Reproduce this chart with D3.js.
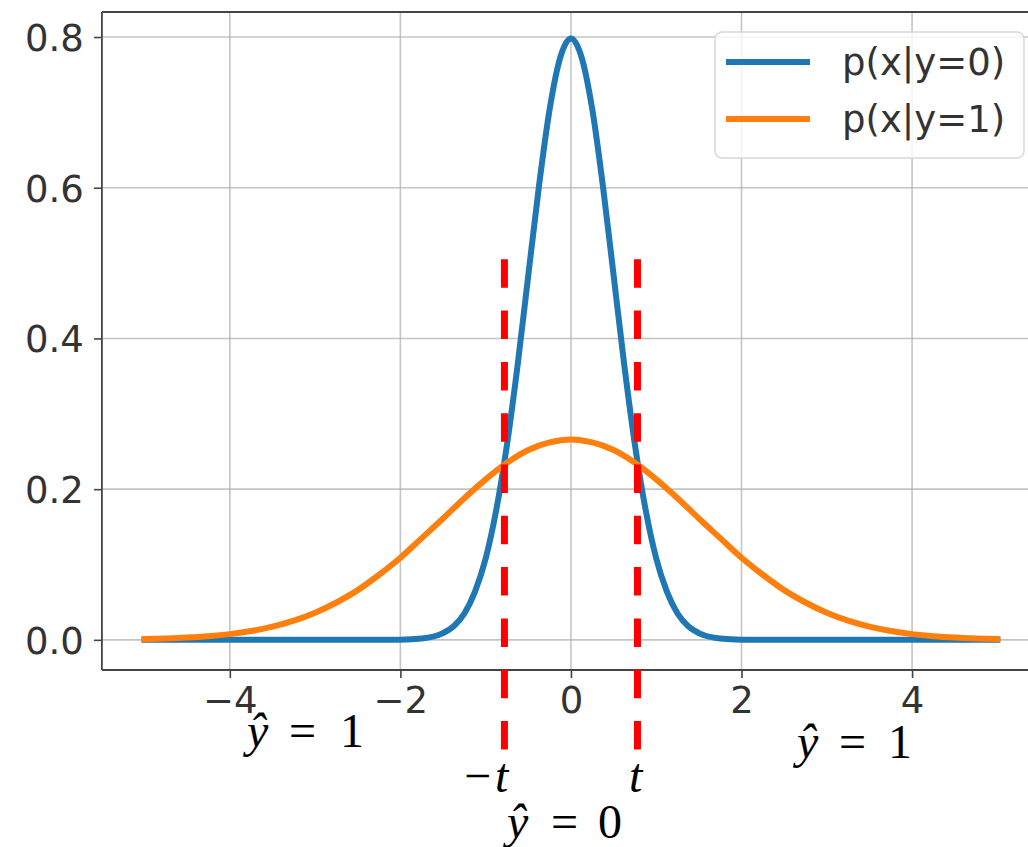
<!DOCTYPE html>
<html>
<head>
<meta charset="utf-8">
<script src="https://cdn.jsdelivr.net/npm/d3@7"></script>
<style>
  body { margin: 0; background: #fff; }
  svg { display: block; }
</style>
</head>
<body>
<div id="chart"></div>
<script>
// values
const xBlue = [-5, -4, -3, -2.5, -2, -1.75, -1.5, -1.375, -1.25, -1.125, -1, -0.875, -0.75, -0.625, -0.5, -0.375, -0.25, -0.125, 0,
  0.125, 0.25, 0.375, 0.5, 0.625, 0.75, 0.875, 1, 1.125, 1.25, 1.375, 1.5, 1.75, 2, 2.5, 3, 4, 5]
const pBlue = [0, 0, 0, 0, 0.0003, 0.0017, 0.0089, 0.018, 0.035, 0.064, 0.108, 0.173, 0.259, 0.365, 0.484, 0.602, 0.704, 0.773, 0.798,
  0.773, 0.704, 0.602, 0.484, 0.365, 0.259, 0.173, 0.108, 0.064, 0.035, 0.018, 0.0089, 0.0017, 0.0003, 0, 0, 0, 0]

const xOrange = [-5, -4.75, -4.5, -4.25, -4, -3.75, -3.5, -3.25, -3, -2.75, -2.5, -2.25, -2, -1.75, -1.5, -1.25, -1, -0.75, -0.5, -0.25, 0,
  0.25, 0.5, 0.75, 1, 1.25, 1.5, 1.75, 2, 2.25, 2.5, 2.75, 3, 3.25, 3.5, 3.75, 4, 4.25, 4.5, 4.75, 5]
const pOrange = [0.001, 0.0018, 0.003, 0.0048, 0.0076, 0.0117, 0.0175, 0.0254, 0.036, 0.0496, 0.066, 0.0864, 0.109, 0.135, 0.161, 0.188, 0.213, 0.235, 0.252, 0.262, 0.266,
  0.262, 0.252, 0.235, 0.213, 0.188, 0.161, 0.135, 0.109, 0.0864, 0.066, 0.0496, 0.036, 0.0254, 0.0175, 0.0117, 0.0076, 0.0048, 0.003, 0.0018, 0.001]

const seriesNames = ['p(x|y=0)', 'p(x|y=1)']
const seriesColors = ['#1f77b4', '#ff7f0e']

const xTicks = [-4, -2, 0, 2, 4]
const yTicks = [0, 0.2, 0.4, 0.6, 0.8]

const threshold = 0.78     // t
const dashSpan = [0.505, -0.146]   // top / bottom of the red markers, in y units

const width = 1028
const height = 847

const x = d3.scaleLinear().domain([-5.5, 5.5]).range([101.9, 1040])
const y = d3.scaleLinear().domain([-0.04, 0.8332]).range([670, 12])

const svg = d3.select('#chart')
  .append('svg')
    .attr('width', width)
    .attr('height', height)

const plot = { left: 101.9, right: 1040, top: 12, bottom: 670 }

// grid
const grid = svg.append('g')
  .attr('stroke', '#b0b0b0')
  .attr('stroke-width', 1.6)
  .attr('stroke-opacity', 0.75)
grid.selectAll('.gx')
  .data(xTicks)
  .enter().append('line')
    .attr('x1', d => x(d)).attr('x2', d => x(d))
    .attr('y1', plot.top).attr('y2', plot.bottom)
grid.selectAll('.gy')
  .data(yTicks)
  .enter().append('line')
    .attr('x1', plot.left).attr('x2', plot.right)
    .attr('y1', d => y(d)).attr('y2', d => y(d))

// curves
const line = d3.line()
  .x(d => x(d[0]))
  .y(d => y(d[1]))
  .curve(d3.curveMonotoneX)

const series = [
  d3.zip(xBlue, pBlue),
  d3.zip(xOrange, pOrange)
]

svg.append('g')
  .selectAll('path')
  .data(series)
  .enter().append('path')
    .attr('d', line)
    .attr('fill', 'none')
    .attr('stroke', (d, i) => seriesColors[i])
    .attr('stroke-width', 6)
    .attr('stroke-linecap', 'square')
    .attr('stroke-linejoin', 'round')

// axes
const fontAxis = '"DejaVu Sans", sans-serif'
const minus = v => d3.format('d')(v).replace('-', '\u2212')

const xAxis = svg.append('g')
  .attr('transform', `translate(0,${plot.bottom})`)
  .call(d3.axisBottom(x).tickValues(xTicks).tickFormat(minus).tickSizeInner(8).tickSizeOuter(0).tickPadding(8))
const yAxis = svg.append('g')
  .attr('transform', `translate(${plot.left},0)`)
  .call(d3.axisLeft(y).tickValues(yTicks).tickFormat(d3.format('.1f')).tickSizeInner(8).tickSizeOuter(0).tickPadding(10))

;[xAxis, yAxis].forEach(a => {
  a.select('.domain').remove()
  a.selectAll('.tick line').attr('stroke', '#444').attr('stroke-width', 1.6)
  a.selectAll('.tick text')
    .attr('fill', '#333')
    .style('font-family', fontAxis)
    .style('font-size', '37px')
})
xAxis.selectAll('.tick text').attr('dy', '0.72em')
yAxis.selectAll('.tick text').attr('dy', '0.36em')

// spines
const spines = svg.append('g')
  .attr('stroke', '#444')
  .attr('stroke-width', 1.8)
spines.append('line').attr('x1', plot.left).attr('x2', plot.left).attr('y1', plot.top).attr('y2', plot.bottom)
spines.append('line').attr('x1', plot.left).attr('x2', plot.right).attr('y1', plot.bottom).attr('y2', plot.bottom)
spines.append('line').attr('x1', plot.left).attr('x2', plot.right).attr('y1', plot.top).attr('y2', plot.top)

// threshold markers
svg.append('g')
  .selectAll('line')
  .data([-threshold, threshold])
  .enter().append('line')
    .attr('x1', d => x(d)).attr('x2', d => x(d))
    .attr('y1', y(dashSpan[0])).attr('y2', y(dashSpan[1]))
    .attr('stroke', '#ff0000')
    .attr('stroke-width', 7)
    .attr('stroke-dasharray', '28.5,22.8')

// legend
const legend = svg.append('g')
legend.append('rect')
  .attr('x', 715).attr('y', 32)
  .attr('width', 309).attr('height', 126)
  .attr('rx', 7)
  .attr('fill', 'rgba(255,255,255,0.8)')
  .attr('stroke', '#d8d8d8')
  .attr('stroke-width', 1.5)
const items = legend.selectAll('.item')
  .data(seriesNames)
  .enter().append('g')
    .attr('transform', (d, i) => `translate(726,${62 + i * 57})`)
items.append('line')
  .attr('x1', 0).attr('x2', 84)
  .attr('stroke', (d, i) => seriesColors[i])
  .attr('stroke-width', 6)
items.append('text')
  .attr('x', 116)
  .attr('dy', '0.36em')
  .attr('fill', '#333')
  .style('font-family', fontAxis)
  .style('font-size', '37px')
  .text(d => d)

// math annotations
const mathFont = '"Liberation Serif", "DejaVu Serif", serif'
const notes = [
  { parts: [['ŷ', 247, true], ['=', 289, false], ['1', 340, false]], base: 747 },
  { parts: [['ŷ', 797, true], ['=', 839, false], ['1', 888, false]], base: 758 },
  { parts: [['\u2212', 464, false], ['t', 495, true]], base: 792 },
  { parts: [['t', 629, true]], base: 792 },
  { parts: [['ŷ', 507, true], ['=', 551, false], ['0', 598, false]], base: 838 }
]
const notesG = svg.append('g')
  .style('font-family', mathFont)
  .style('font-size', '48px')
  .attr('fill', '#000')
notes.forEach(n => {
  n.parts.forEach(p => {
    notesG.append('text')
      .attr('x', p[1])
      .attr('y', n.base)
      .style('font-style', p[2] ? 'italic' : 'normal')
      .text(p[0])
  })
})
</script>
</body>
</html>
